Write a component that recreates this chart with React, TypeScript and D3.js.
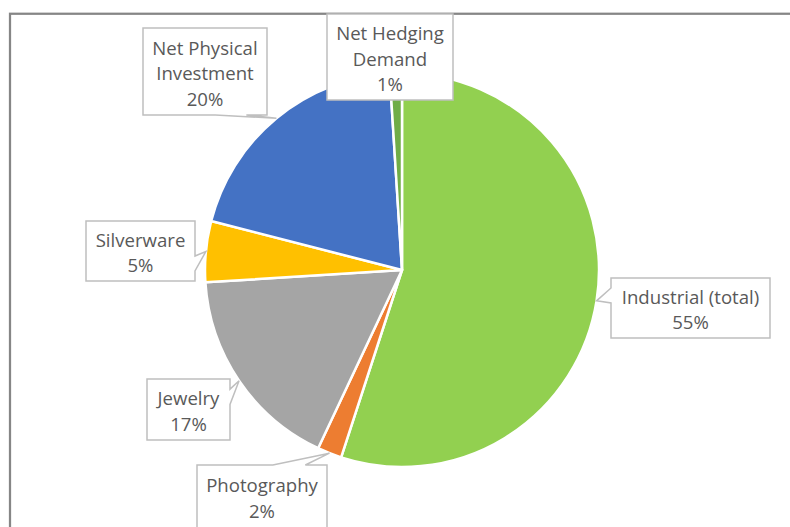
import React from 'react';
import * as d3 from 'd3';

// Silver demand by end use, share of total (%)
const categories = [
  'Industrial (total)',
  'Photography',
  'Jewelry',
  'Silverware',
  'Net Physical Investment',
  'Net Hedging Demand',
];
const shares = [55, 2, 17, 5, 20, 1];
const sliceColors = ['#92D050', '#ED7D31', '#A5A5A5', '#FFC000', '#4472C4', '#70AD47'];
// how each category name wraps inside its callout
const labelLines = [
  ['Industrial (total)'],
  ['Photography'],
  ['Jewelry'],
  ['Silverware'],
  ['Net Physical', 'Investment'],
  ['Net Hedging', 'Demand'],
];

// callout boxes (x, y, width, height) and the side the pointer leaves from
const callouts: { x: number; y: number; w: number; h: number; side: string | null }[] = [
  { x: 611, y: 278, w: 159, h: 60, side: 'left' },
  { x: 197, y: 465, w: 130, h: 63, side: 'top' },
  { x: 147, y: 379, w: 83, h: 61, side: 'right' },
  { x: 86, y: 221, w: 109, h: 60, side: 'right' },
  { x: 143, y: 28, w: 124, h: 87, side: 'bottom' },
  { x: 327, y: 14, w: 126, h: 86, side: null },
];

const W = 790;
const H = 527;
const CX = 402;
const CY = 270;
const R = 197;
const LINE_H = 25.5;

function calloutPath(b: { x: number; y: number; w: number; h: number; side: string | null }, tip: [number, number]) {
  const { x, y, w, h, side } = b;
  const [tx, ty] = tip;
  if (side === 'left' || side === 'right') {
    const above = ty < y + h / 2;
    const y1 = y + h * (above ? 2 : 7) / 12;
    const y2 = y + h * (above ? 5 : 10) / 12;
    if (side === 'left') {
      return `M${x},${y}H${x + w}V${y + h}H${x}V${y2}L${tx},${ty}L${x},${y1}Z`;
    }
    return `M${x},${y}H${x + w}V${y1}L${tx},${ty}L${x + w},${y2}V${y + h}H${x}Z`;
  }
  if (side === 'top' || side === 'bottom') {
    const leftOf = tx < x + w / 2;
    const x1 = x + w * (leftOf ? 2 : 7) / 12;
    const x2 = x + w * (leftOf ? 5 : 10) / 12;
    if (side === 'top') {
      return `M${x},${y}H${x1}L${tx},${ty}L${x2},${y}H${x + w}V${y + h}H${x}Z`;
    }
    return `M${x},${y}H${x + w}V${y + h}H${x2}L${tx},${ty}L${x1},${y + h}H${x}Z`;
  }
  return `M${x},${y}H${x + w}V${y + h}H${x}Z`;
}

export default function App() {
  const pie = d3
    .pie<number>()
    .sort(null)
    .value((d) => d)
    .startAngle(0)
    .endAngle(2 * Math.PI);
  const arcs = pie(shares);
  const arc = d3.arc<d3.PieArcDatum<number>>().innerRadius(0).outerRadius(R);
  const rim = d3.arc<d3.PieArcDatum<number>>().innerRadius(R).outerRadius(R);

  return (
    <svg
      width={W}
      height={H}
      viewBox={`0 0 ${W} ${H}`}
      style={{ position: 'absolute', left: 0, top: 0, background: '#fff' }}
      fontFamily="'Open Sans', sans-serif"
    >
      <rect x={0} y={0} width={W} height={H} fill="#fff" />
      {/* chart area frame */}
      <rect x={10} y={13.75} width={W + 40} height={H + 40} fill="none" stroke="#868686" strokeWidth={2.25} />

      <g transform={`translate(${CX},${CY})`}>
        {arcs.map((a, i) => (
          <path
            key={categories[i]}
            d={arc(a) || ''}
            fill={sliceColors[i]}
            stroke="#fff"
            strokeWidth={2.5}
            strokeLinejoin="round"
          />
        ))}
      </g>

      {arcs.map((a, i) => {
        const b = callouts[i];
        const c = rim.centroid(a);
        const tip: [number, number] = [CX + c[0], CY + c[1]];
        const lines = [...labelLines[i], `${shares[i]}%`];
        const midY = b.y + b.h / 2 + 1;
        return (
          <g key={`lbl-${categories[i]}`}>
            <path d={calloutPath(b, tip)} fill="#fff" stroke="#BFBFBF" strokeWidth={1.5} strokeLinejoin="miter" />
            {lines.map((t, k) => (
              <text
                key={k}
                x={b.x + b.w / 2}
                y={midY + (k - (lines.length - 1) / 2) * LINE_H}
                textAnchor="middle"
                dominantBaseline="central"
                fontSize={18.6}
                fill="#595959"
              >
                {t}
              </text>
            ))}
          </g>
        );
      })}
    </svg>
  );
}
